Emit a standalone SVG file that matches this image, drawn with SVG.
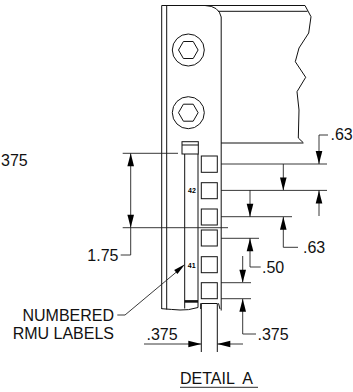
<svg xmlns="http://www.w3.org/2000/svg" width="353" height="392" viewBox="0 0 353 392">
<style>
.l{fill:none;stroke:#111;stroke-width:1}
.d{fill:none;stroke:#222;stroke-width:.9}
.a{fill:#000;stroke:none}
.t{font-family:"Liberation Sans",Arial,sans-serif;font-size:16px;fill:#111}
.s{font-family:"Liberation Sans",Arial,sans-serif;font-size:7px;font-weight:bold;fill:#000}
</style>
<defs>
<path id="ad" class="a" d="M0 0L-3.300 -13L3.300 -13Z"/>
<g id="bolt"><circle r="16" fill="none" stroke="#111" stroke-width="1"/><path fill="none" stroke="#111" stroke-width="1" d="M-9.800 0L-4.900 -8.500L4.900 -8.500L9.800 0L4.900 8.500L-4.900 8.500Z"/></g>
</defs>
<g id="rail">
<path class="l" d="M161.700 5.500V309M166.700 5.500V309.500"/>
<path class="l" d="M161.700 5.500H205Q219 6 221.200 17V310.500"/>
<path class="l" d="M205 5.500H305L311 16.700L308.700 33L299 48L295.300 61.700L305.700 77.300L297 91.700L299 110L298.300 138L303.300 142.700M218 11.300H307.500M221.200 143H303.300"/>
<path class="l" d="M161.700 308.700Q172 309.500 180 310T198 307.500M184.700 154V308.500M198 154V307.500M200.700 303.300V309M218.500 303.300L220 309"/>
</g>
<g id="bolt-1"><use href="#bolt" x="188.300" y="50"/></g>
<g id="bolt-2"><use href="#bolt" x="188.300" y="112.700"/></g>
<g id="label-slot">
<rect class="l" x="182" y="141.700" width="16.300" height="12.300"/>
<path class="l" d="M182 145H198.300" stroke-width="1.500"/>
<path d="M184.700 301.400H198" stroke="#111" stroke-width="2.600" fill="none"/>
<text class="s" x="188" y="193">42</text>
<text class="s" x="187.800" y="267.500">41</text>
</g>
<g id="squares">
<rect class="l" x="201.300" y="156" width="16" height="16.300"/>
<rect class="l" x="201.300" y="182.700" width="16" height="16"/>
<rect class="l" x="201.300" y="209" width="16" height="16"/>
<rect class="l" x="201.300" y="230" width="16" height="16"/>
<rect class="l" x="201.300" y="256.700" width="16" height="16"/>
<rect class="l" x="201.300" y="282.700" width="16" height="16"/>
<path class="l" d="M201.300 352V303.500H217.300V352"/>
</g>
<g id="connectors">
<path class="d" d="M221 164H327M221 190.400H327M221 216.700H292M221 238.300H259M221 282.700H251M221 298.700H251"/>
<path class="d" d="M319 164V135H328M283.300 164V190M319 190V216M250 190V217M283.300 217V247.300H298M250 238V267H260.700M242.700 256V282M242.700 299V334H256"/>
<use href="#ad" x="319" y="164"/><use href="#ad" x="283.300" y="190.400"/><use href="#ad" x="250" y="216.700"/>
<use href="#ad" transform="translate(319 190.400) rotate(180)"/><use href="#ad" transform="translate(283.300 216.700) rotate(180)"/><use href="#ad" transform="translate(250 238.300) rotate(180)"/>
<use href="#ad" x="242.700" y="282.700"/><use href="#ad" transform="translate(242.700 298.700) rotate(180)"/>
<path class="d" d="M122.700 153.300H178M122.700 227.700H228M130.700 153.300V255H120.700"/>
<use href="#ad" transform="translate(130.700 153.300) rotate(180)"/><use href="#ad" x="130.700" y="227.700"/>
<path class="d" d="M144 344H201M217.300 344H243"/>
<use href="#ad" transform="translate(201.300 344) rotate(-90)"/><use href="#ad" transform="translate(217.300 344) rotate(90)"/>
<path class="d" d="M117.300 315H125L180 269"/>
<path class="a" d="M185 264.300L177.400 273.900L174.200 270.100Z"/>
</g>
<g id="labels">
<text class="t" x="330.500" y="140">.63</text>
<text class="t" x="303" y="253">.63</text>
<text class="t" x="262" y="273">.50</text>
<text class="t" x="257.500" y="340">.375</text>
<text class="t" x="146.500" y="340">.375</text>
<text class="t" x="1" y="166">375</text>
<text class="t" x="118.500" y="261" text-anchor="end">1.75</text>
<text class="t" x="114" y="321" text-anchor="end">NUMBERED</text>
<text class="t" x="114" y="339" text-anchor="end">RMU LABELS</text>
<text class="t" x="180" y="384" style="white-space:pre">DETAIL  A</text>
<path d="M180 387.300H258" fill="none" stroke="#555" stroke-width="1.300"/>
</g>
</svg>
